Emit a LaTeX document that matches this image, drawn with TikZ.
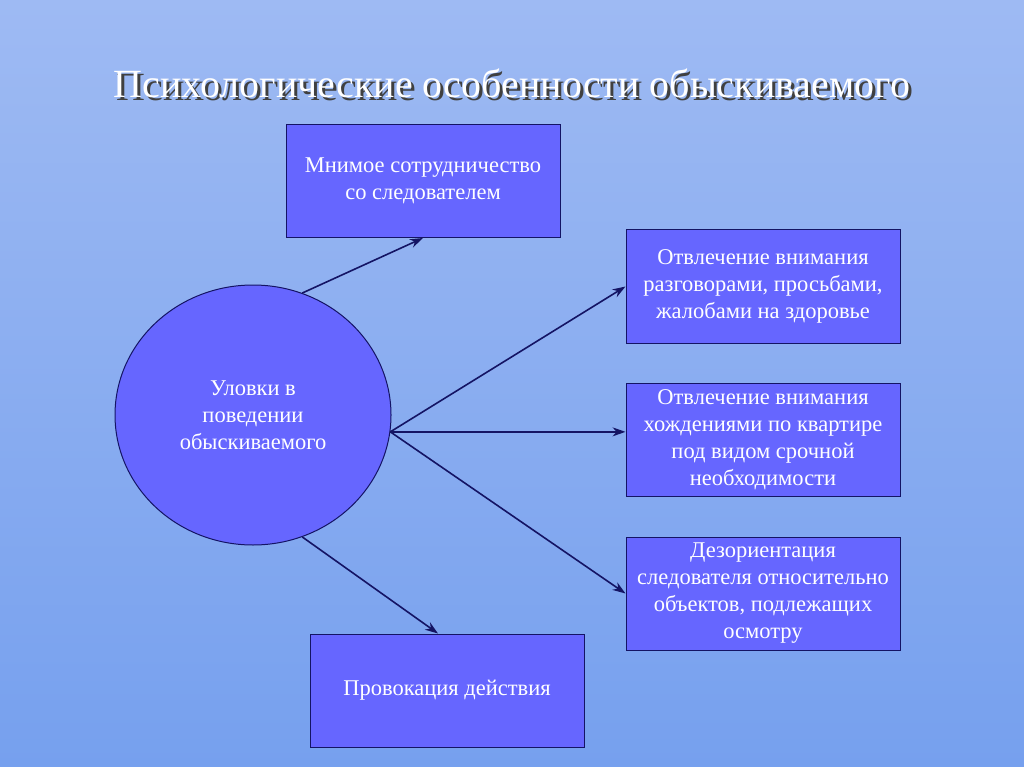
\documentclass[tikz,border=0pt]{standalone}
\usepackage{fontspec}
\setmainfont{Liberation Serif}
\usetikzlibrary{shapes.geometric,arrows.meta}
\definecolor{boxfill}{RGB}{102,102,255}
\definecolor{boxline}{RGB}{20,20,100}
\definecolor{skytop}{RGB}{158,186,243}
\definecolor{skymid}{RGB}{176,200,246}
\definecolor{skybot}{RGB}{118,160,238}
\newcommand{\shadowtext}[1]{\rlap{\hspace{3pt}\raisebox{-3pt}{\color{black!75}#1}}#1}
\begin{document}
\begin{tikzpicture}[x=1pt, y=-1pt,
  ->, >={Stealth[length=13pt,width=9pt]}, line width=1.6pt, draw=boxline,
  item/.style={rectangle, draw=boxline, line width=1pt, fill=boxfill, text=white,
    minimum width=274pt, minimum height=113pt, align=center,
    font=\fontsize{22.5}{27}\selectfont},
  hub/.style={ellipse, draw=boxline, line width=1pt, fill=boxfill, text=white,
    minimum width=276pt, minimum height=260pt, align=center,
    font=\fontsize{22.5}{27}\selectfont}]
% background
\fill[top color=skytop, middle color=skymid, bottom color=skybot, draw=none]
  (0,0) rectangle (1024,767);
\useasboundingbox (0,0) rectangle (1024,767);
% title
\node[text=white, font=\fontsize{40}{48}\selectfont] (title) at (512,85)
  {\shadowtext{Психологические особенности обыскиваемого}};
% nodes
\node[hub] (uv) at (253,415) {Уловки в\\поведении\\обыскиваемого};
\node[item] (mn) at (423,181) {Мнимое сотрудничество\\со следователем};
\node[item] (rz) at (763,286.5) {Отвлечение внимания\\разговорами, просьбами,\\жалобами на здоровье};
\node[item] (hk) at (763,439.5) {Отвлечение внимания\\хождениями по квартире\\под видом срочной\\необходимости};
\node[item] (dz) at (763,593.5) {Дезориентация\\следователя относительно\\объектов, подлежащих\\осмотру};
\node[item] (pr) at (447,690.5) {Провокация действия};
% arrows
\draw (uv.68) -- (mn.south);
\draw (uv.-7) -- (rz.west);
\draw (uv.-7) -- (uv.-7 -| hk.west);
\draw (uv.-7) -- (dz.west);
\draw (uv.-68) -- ([xshift=-9pt]pr.north);
\end{tikzpicture}
\end{document}
